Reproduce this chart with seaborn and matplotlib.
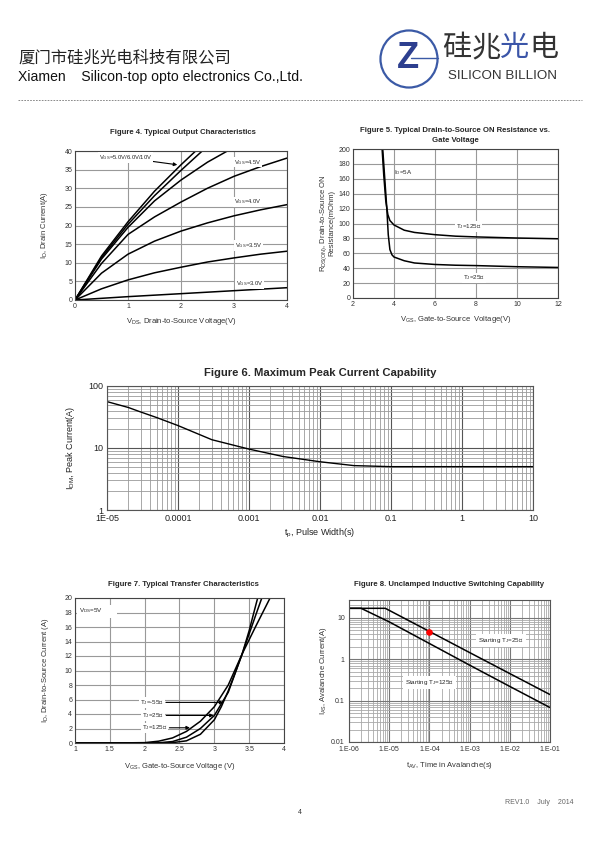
import matplotlib
matplotlib.use('Agg')
import matplotlib.pyplot as plt
import seaborn as sns
from matplotlib.patches import Circle
from matplotlib.lines import Line2D
from matplotlib.ticker import LogLocator, NullFormatter, FixedLocator, FixedFormatter

# ---- Figure 4: output characteristics (ID vs VDS)
vds = [0, 0.5, 1, 1.5, 2, 2.5, 3, 3.5, 4]
id_3v0 = [0, 0.45, 0.9, 1.3, 1.7, 2.1, 2.5, 2.9, 3.3]
id_3v5 = [0, 3.0, 5.4, 7.3, 8.8, 10.2, 11.3, 12.3, 13.1]
id_4v0 = [0, 7.2, 12.3, 15.8, 18.5, 20.7, 22.6, 24.2, 25.6]
id_4v5 = [0, 9.8, 17.6, 22.3, 26.3, 30.0, 33.2, 35.8, 38.1]
vds_hi = [0, 0.5, 1, 1.5, 2, 2.5, 3]
id_5v0 = [0, 11.0, 19.5, 26.6, 32.2, 37.0, 41.0]
id_6v0 = [0, 11.4, 20.3, 28.0, 34.8, 41.3, 47.0]
id_10v = [0, 11.8, 21.0, 29.2, 36.3, 43.0, 49.0]

# ---- Figure 5: RDS(on) vs VGS
vgs5_25 = [3.45, 3.55, 3.65, 3.72, 3.8, 3.9, 4.0, 4.5, 5, 6, 7, 8, 10, 12]
rds_25 = [200, 160, 120, 85, 65, 58, 55, 50, 47, 45, 44, 43.5, 42, 41]
vgs5_125 = [3.42, 3.5, 3.6, 3.7, 3.8, 4.0, 4.5, 5, 6, 7, 8, 10, 12]
rds_125 = [200, 165, 130, 112, 104, 98, 91, 88, 85, 83, 82, 80.5, 79.5]

# ---- Figure 6: peak current vs pulse width
tp = [1e-5, 2e-5, 3e-5, 5e-5, 1e-4, 3e-4, 1e-3, 3e-3, 1e-2, 3e-2, 1e-1, 1, 10]
idm = [56, 45, 38, 31, 23, 13.6, 9.6, 7.3, 6.0, 5.2, 5.0, 5.0, 5.0]

# ---- Figure 7: transfer characteristics
vgs7_125 = [1, 1.5, 2, 2.2, 2.4, 2.6, 2.8, 3.0, 3.2, 3.4, 3.6, 3.8]
id7_125 = [0, 0, 0.05, 0.25, 0.7, 1.6, 3.0, 5.0, 8.0, 12.3, 16.2, 20]
vgs7_25 = [1, 2, 2.2, 2.4, 2.6, 2.8, 3.0, 3.2, 3.4, 3.6, 3.7]
id7_25 = [0, 0, 0.03, 0.2, 0.8, 2.0, 3.8, 7.0, 12.3, 17.8, 20.5]
vgs7_m55 = [1, 2.2, 2.4, 2.6, 2.8, 3.0, 3.1, 3.2, 3.3, 3.4, 3.5, 3.6, 3.65]
id7_m55 = [0, 0, 0.05, 0.3, 1.2, 3.2, 5.0, 7.2, 9.7, 12.3, 15.5, 19.2, 21]

# ---- Figure 8: avalanche current vs time
tav_25 = [1e-6, 8e-6, 1e-4, 1e-3, 1e-2, 1e-1]
ias_25 = [17, 17, 4.7, 1.45, 0.45, 0.14]
tav_125 = [1e-6, 2e-6, 1e-5, 1e-4, 1e-3, 1e-2, 1e-1]
ias_125 = [17, 17, 8.0, 2.4, 0.72, 0.22, 0.068]
red_pt_t = [1e-4]
red_pt_i = [4.6]

sns.set_style('white')
plt.rcParams['font.family'] = ['Liberation Sans', 'Noto Sans CJK SC', 'DejaVu Sans']
plt.rcParams['mathtext.default'] = 'regular'
plt.rcParams['axes.linewidth'] = 0.8

W, H = 600, 848
fig = plt.figure(figsize=(6, 8.48), dpi=100)


def rect(l, t, r, b):
    return [l / W, 1 - b / H, (r - l) / W, (b - t) / H]


def ftxt(x, y, s, **kw):
    fig.text(x / W, 1 - y / H, s, **kw)


BOX = dict(facecolor='white', edgecolor='none', pad=0.6)


def style_lin(ax, fs=5):
    ax.tick_params(axis='both', labelsize=fs, length=2.5, width=0.6, direction='in', pad=2,
                   colors='#333333')
    for s in ax.spines.values():
        s.set_color('#444444')
        s.set_linewidth(0.8)


# ---- header
ftxt(18, 58, '厦门市硅兆光电科技有限公司', fontsize=11.8, family=['Noto Sans CJK SC'],
     color='#222222', va='center')
ftxt(18, 77, 'Xiamen    Silicon-top opto electronics Co.,Ltd.', fontsize=10.1, color='#111111',
     va='center')
fig.add_artist(Line2D([18 / W, 582 / W], [1 - 100 / H] * 2, color='#777777', lw=0.6,
                      linestyle=(0, (2, 1.5))))
logo = fig.add_axes([378 / W, 1 - 90 / H, 62 / W, 62 / H])
logo.set_xlim(-1, 1)
logo.set_ylim(-1, 1)
logo.set_aspect('equal')
logo.axis('off')
logo.add_patch(Circle((0, 0), 0.92, fill=False, ec='#3b5aa6', lw=1.6))
logo.plot([0.05, 0.92], [0.02, 0.02], color='#3b5aa6', lw=1.0)
logo.text(-0.05, 0.0, 'Z', fontsize=26, fontweight='bold', color='#2d3f8f', ha='center',
          va='center')
for cx, ch, col in [(457, '硅', '#333333'), (486, '兆', '#333333'),
                    (515, '光', '#3b55a8'), (544, '电', '#333333')]:
    ftxt(cx, 48, ch, fontsize=21, family=['Noto Sans CJK SC'], color=col, ha='center',
         va='center')
ftxt(502, 76, 'SILICON BILLION', fontsize=9.6, color='#333333', ha='center', va='center')

# ---- Figure 4
ax4 = fig.add_axes(rect(75, 151, 287, 300))
for xx, yy in [(vds, id_3v0), (vds, id_3v5), (vds, id_4v0), (vds, id_4v5),
               (vds_hi, id_5v0), (vds_hi, id_6v0), (vds_hi, id_10v)]:
    sns.lineplot(x=xx, y=yy, ax=ax4, color='black', lw=1.1, sort=False)
ax4.set_xlim(0, 4)
ax4.set_ylim(0, 40)
ax4.set_xticks([0, 1, 2, 3, 4])
ax4.set_yticks(range(0, 41, 5))
ax4.grid(True, color='#999999', lw=0.8)
style_lin(ax4)
ax4.set_xlabel('V$_{DS}$, Drain-to-Source Voltage(V)', fontsize=5.5, color='#333333')
ax4.set_ylabel('I$_D$, Drain Current(A)', fontsize=5.5, color='#333333')
ax4.xaxis.set_label_coords(0.5, -0.11)
ax4.yaxis.set_label_coords(-0.12, 0.5)
ax4.annotate('V$_{GS}$=5.0V/6.0V/10V', xy=(1.93, 36.3), xytext=(0.95, 38.2), fontsize=4.2,
             ha='center', va='center', bbox=BOX,
             arrowprops=dict(arrowstyle='-|>', color='black', lw=0.8, mutation_scale=5,
                             shrinkA=0, shrinkB=0))
for x, y, s in [(3.26, 37.0, 'V$_{GS}$=4.5V'), (3.26, 26.3, 'V$_{GS}$=4.0V'),
                (3.28, 14.6, 'V$_{GS}$=3.5V'), (3.3, 4.3, 'V$_{GS}$=3.0V')]:
    ax4.text(x, y, s, fontsize=4.2, ha='center', va='center', bbox=BOX)
ftxt(183, 133, 'Figure 4. Typical Output Characteristics', fontsize=5.6, fontweight='bold',
     ha='center', va='center')

# ---- Figure 5
ax5 = fig.add_axes(rect(353, 149, 558, 298))
sns.lineplot(x=vgs5_25, y=rds_25, ax=ax5, color='black', lw=1.1, sort=False)
sns.lineplot(x=vgs5_125, y=rds_125, ax=ax5, color='black', lw=1.1, sort=False)
ax5.set_xlim(2, 12)
ax5.set_ylim(0, 200)
ax5.set_xticks(range(2, 13, 2))
ax5.set_yticks(range(0, 201, 20))
ax5.grid(True, color='#999999', lw=0.8)
style_lin(ax5)
ax5.set_xlabel('V$_{GS}$, Gate-to-Source  Voltage(V)', fontsize=5.5, color='#333333')
ax5.set_ylabel('R$_{DS(ON)}$, Drain-to-Source ON\nResistance(mOhm)', fontsize=5.5,
               color='#333333', linespacing=0.95)
ax5.xaxis.set_label_coords(0.5, -0.11)
ax5.yaxis.set_label_coords(-0.085, 0.5)
ax5.text(4.45, 169, 'I$_D$=5A', fontsize=4.5, ha='center', va='center')
ax5.text(7.65, 96, 'T$_J$=125℃', fontsize=4.5, ha='center', va='center', bbox=BOX)
ax5.text(7.9, 27, 'T$_J$=25℃', fontsize=4.5, ha='center', va='center', bbox=BOX)
ftxt(455, 131, 'Figure 5. Typical Drain-to-Source ON Resistance vs.', fontsize=5.6,
     fontweight='bold', ha='center', va='center')
ftxt(455, 141, 'Gate Voltage', fontsize=5.6, fontweight='bold', ha='center', va='center')

# ---- Figure 6
ax6 = fig.add_axes(rect(107, 386, 533, 510))
sns.lineplot(x=tp, y=idm, ax=ax6, color='black', lw=1.0, sort=False)
ax6.set_xscale('log')
ax6.set_yscale('log')
ax6.set_xlim(1e-5, 10)
ax6.set_ylim(1, 100)
ax6.xaxis.set_major_locator(FixedLocator([1e-5, 1e-4, 1e-3, 1e-2, 1e-1, 1, 10]))
ax6.xaxis.set_major_formatter(FixedFormatter(['1E-05', '0.0001', '0.001', '0.01', '0.1', '1', '10']))
ax6.yaxis.set_major_locator(FixedLocator([1, 10, 100]))
ax6.yaxis.set_major_formatter(FixedFormatter(['1', '10', '100']))
ax6.xaxis.set_minor_locator(LogLocator(base=10, subs=range(2, 10)))
ax6.yaxis.set_minor_locator(LogLocator(base=10, subs=range(2, 10)))
ax6.xaxis.set_minor_formatter(NullFormatter())
ax6.yaxis.set_minor_formatter(NullFormatter())
ax6.grid(True, which='major', color='#555555', lw=0.8)
ax6.grid(True, which='minor', color='#9a9a9a', lw=0.6)
ax6.tick_params(axis='both', which='both', length=0, labelsize=6.5, pad=3, colors='#222222')
for s in ax6.spines.values():
    s.set_color('#555555')
    s.set_linewidth(0.8)
ax6.set_xlabel('t$_p$, Pulse Width(s)', fontsize=6.5, color='#222222')
ax6.set_ylabel('I$_{DM}$, Peak Current(A)', fontsize=6.5, color='#222222')
ax6.xaxis.set_label_coords(0.5, -0.14)
ax6.yaxis.set_label_coords(-0.07, 0.5)
ftxt(320, 373, 'Figure 6. Maximum Peak Current Capability', fontsize=8.1, fontweight='bold',
     ha='center', va='center')

# ---- Figure 7
ax7 = fig.add_axes(rect(75, 598, 284, 743))
for xx, yy in [(vgs7_125, id7_125), (vgs7_25, id7_25), (vgs7_m55, id7_m55)]:
    sns.lineplot(x=xx, y=yy, ax=ax7, color='black', lw=1.1, sort=False)
ax7.set_xlim(1, 4)
ax7.set_ylim(0, 20)
ax7.set_xticks([1, 1.5, 2, 2.5, 3, 3.5, 4])
ax7.set_xticklabels(['1', '1.5', '2', '2.5', '3', '3.5', '4'])
ax7.set_yticks(range(0, 21, 2))
ax7.grid(True, color='#999999', lw=0.8)
style_lin(ax7)
ax7.set_xlabel('V$_{GS}$, Gate-to-Source Voltage (V)', fontsize=5.5, color='#333333')
ax7.set_ylabel('I$_D$, Drain-to-Source Current (A)', fontsize=5.5, color='#333333')
ax7.xaxis.set_label_coords(0.5, -0.125)
ax7.yaxis.set_label_coords(-0.115, 0.5)
ax7.text(1.06, 18.2, 'V$_{DS}$=5V        ', fontsize=4.5, ha='left', va='center',
         bbox=dict(facecolor='white', edgecolor='none', pad=1.5))
for (tx, ty), (px, py), s in [((2.1, 5.6), (3.13, 5.6), 'T$_J$=-55℃'),
                              ((2.12, 3.8), (2.99, 3.8), 'T$_J$=25℃'),
                              ((2.14, 2.1), (2.65, 2.1), 'T$_J$=125℃')]:
    ax7.annotate(s, xy=(px, py), xytext=(tx, ty), fontsize=4.5, ha='center', va='center',
                 bbox=BOX, arrowprops=dict(arrowstyle='-|>', color='black', lw=0.8,
                                           mutation_scale=5, shrinkA=1, shrinkB=0))
ftxt(183, 585, 'Figure 7. Typical Transfer Characteristics', fontsize=5.6, fontweight='bold',
     ha='center', va='center')

# ---- Figure 8
ax8 = fig.add_axes(rect(349, 600, 550, 742))
sns.lineplot(x=tav_25, y=ias_25, ax=ax8, color='black', lw=1.1, sort=False)
sns.lineplot(x=tav_125, y=ias_125, ax=ax8, color='black', lw=1.1, sort=False)
ax8.scatter(red_pt_t, red_pt_i, s=14, color='red', zorder=5)
ax8.set_xscale('log')
ax8.set_yscale('log')
ax8.set_xlim(1e-6, 1e-1)
ax8.set_ylim(0.01, 27)
ax8.xaxis.set_major_locator(FixedLocator([1e-6, 1e-5, 1e-4, 1e-3, 1e-2, 1e-1]))
ax8.xaxis.set_major_formatter(FixedFormatter(['1.E-06', '1.E-05', '1.E-04', '1.E-03',
                                              '1.E-02', '1.E-01']))
ax8.yaxis.set_major_locator(FixedLocator([0.01, 0.1, 1, 10]))
ax8.yaxis.set_major_formatter(FixedFormatter(['0.01', '0.1', '1', '10']))
ax8.xaxis.set_minor_locator(LogLocator(base=10, subs=range(2, 10)))
ax8.yaxis.set_minor_locator(LogLocator(base=10, subs=range(2, 10)))
ax8.xaxis.set_minor_formatter(NullFormatter())
ax8.yaxis.set_minor_formatter(NullFormatter())
ax8.grid(True, which='major', color='#777777', lw=0.8)
ax8.grid(True, which='minor', color='#a8a8a8', lw=0.6)
ax8.tick_params(axis='both', which='both', length=0, labelsize=5, pad=3, colors='#333333')
for s in ax8.spines.values():
    s.set_color('#555555')
    s.set_linewidth(0.8)
ax8.set_xlabel('t$_{AV}$, Time in Avalanche(s)', fontsize=5.5, color='#333333')
ax8.set_ylabel('I$_{AS}$, Avalanche Current(A)', fontsize=5.5, color='#333333')
ax8.xaxis.set_label_coords(0.5, -0.13)
ax8.yaxis.set_label_coords(-0.1, 0.5)
ax8.text(6.0e-3, 2.8, 'Starting T$_J$=25℃', fontsize=4.5, ha='center', va='center',
         bbox=dict(facecolor='white', edgecolor='none', pad=1.5))
ax8.text(1.0e-4, 0.27, 'Starting T$_J$=125℃', fontsize=4.5, ha='center', va='center',
         bbox=dict(facecolor='white', edgecolor='none', pad=1.5))
ftxt(449, 584, 'Figure 8. Unclamped Inductive Switching Capability', fontsize=5.6,
     fontweight='bold', ha='center', va='center')

# ---- footer
ftxt(505, 803, 'REV1.0    July    2014', fontsize=5, color='#666666', va='center')
ftxt(300, 813, '4', fontsize=5, color='#333333', ha='center', va='center')

fig.savefig('out.png', dpi=100, facecolor='white')
